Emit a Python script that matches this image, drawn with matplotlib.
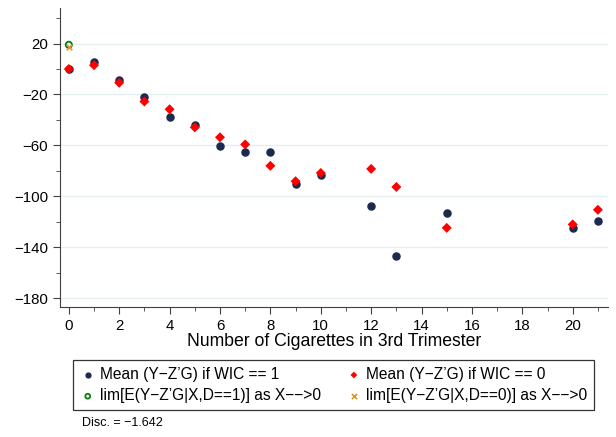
import numpy as np
import matplotlib.pyplot as plt

plt.rcParams['font.family'] = ['Liberation Sans', 'DejaVu Sans']

# cigarettes per day
x_wic1 = [0, 1, 2, 3, 4, 5, 6, 7, 8, 9, 10, 12, 13, 15, 20, 21]
y_wic1 = [0.3, 5.3, -8.4, -21.8, -37.6, -43.7, -60.3, -65.0, -65.5, -90.3,
          -83.6, -107.6, -147.0, -112.8, -125.0, -119.5]
x_wic0 = [0, 1, 2, 3, 4, 5, 6, 7, 8, 9, 10, 12, 13, 15, 20, 21]
y_wic0 = [0.0, 3.0, -10.8, -25.5, -31.6, -45.8, -53.6, -59.2, -76.0, -88.1,
          -81.6, -78.4, -92.6, -124.7, -122.0, -110.5]
lim1 = 19.0
lim0 = 17.0
disc = -1.642

fig = plt.figure(figsize=(6.16, 4.37), dpi=100)
ax = fig.add_axes([0.097, 0.297, 0.890, 0.685])

h1 = ax.scatter(x_wic1, y_wic1, s=26, color='#1c2a50', marker='o', zorder=3,
                label='Mean (Y\u2212Z\u2019G) if WIC == 1')
h2 = ax.scatter(x_wic0, y_wic0, s=26, color='#ff0000', marker='D', zorder=4,
                label='Mean (Y\u2212Z\u2019G) if WIC == 0', edgecolors='none')
h3 = ax.scatter([0], [lim1], s=20, facecolors='none', edgecolors='#0a7a0a',
                linewidths=1.3, zorder=5,
                label='lim[E(Y\u2212Z\u2019G|X,D==1)] as X\u2212\u2212>0')
h4 = ax.scatter([0], [lim0], s=16, color='#e8901a', marker='x', linewidths=1.2,
                zorder=5, label='lim[E(Y\u2212Z\u2019G|X,D==0)] as X\u2212\u2212>0')

ax.set_xlim(-0.36, 21.4)
ax.set_ylim(-187, 48)
ax.set_xticks(np.arange(0, 21, 2))
ax.set_xticks(np.arange(1, 22, 2), minor=True)
ax.set_yticks(np.arange(-180, 21, 40))
ax.set_yticks(np.arange(-160, 41, 40), minor=True)
ax.grid(axis='y', which='major', color='#e6eff0', linewidth=1.0, zorder=0)
ax.set_axisbelow(True)

for s in ['top', 'right']:
    ax.spines[s].set_visible(False)
for s in ['left', 'bottom']:
    ax.spines[s].set_color('#404040')
ax.tick_params(which='major', length=5, color='#404040', labelsize=10.8,
               labelcolor='black')
ax.tick_params(which='minor', length=3, color='#404040')
ax.set_xlabel('Number of Cigarettes in 3rd Trimester', fontsize=12.7, labelpad=0)

handles = [h1, h3, h2, h4]
leg = fig.legend(handles, [h.get_label() for h in handles],
                 loc='upper left', bbox_to_anchor=(0.1185, 0.176), ncol=2,
                 fontsize=11.2, frameon=True, fancybox=False, edgecolor='black',
                 handletextpad=0.3, columnspacing=1.6, borderpad=0.45,
                 labelspacing=0.4, handlelength=1.0, borderaxespad=0)
leg.get_frame().set_linewidth(0.9)
for lh, sz in zip(leg.legend_handles, [12, 12, 12, 14]):
    lh.set_sizes([sz])

fig.text(0.133, 0.032, 'Disc. = \u22121.642', fontsize=9, va='center')

fig.savefig('out.png', dpi=100)
